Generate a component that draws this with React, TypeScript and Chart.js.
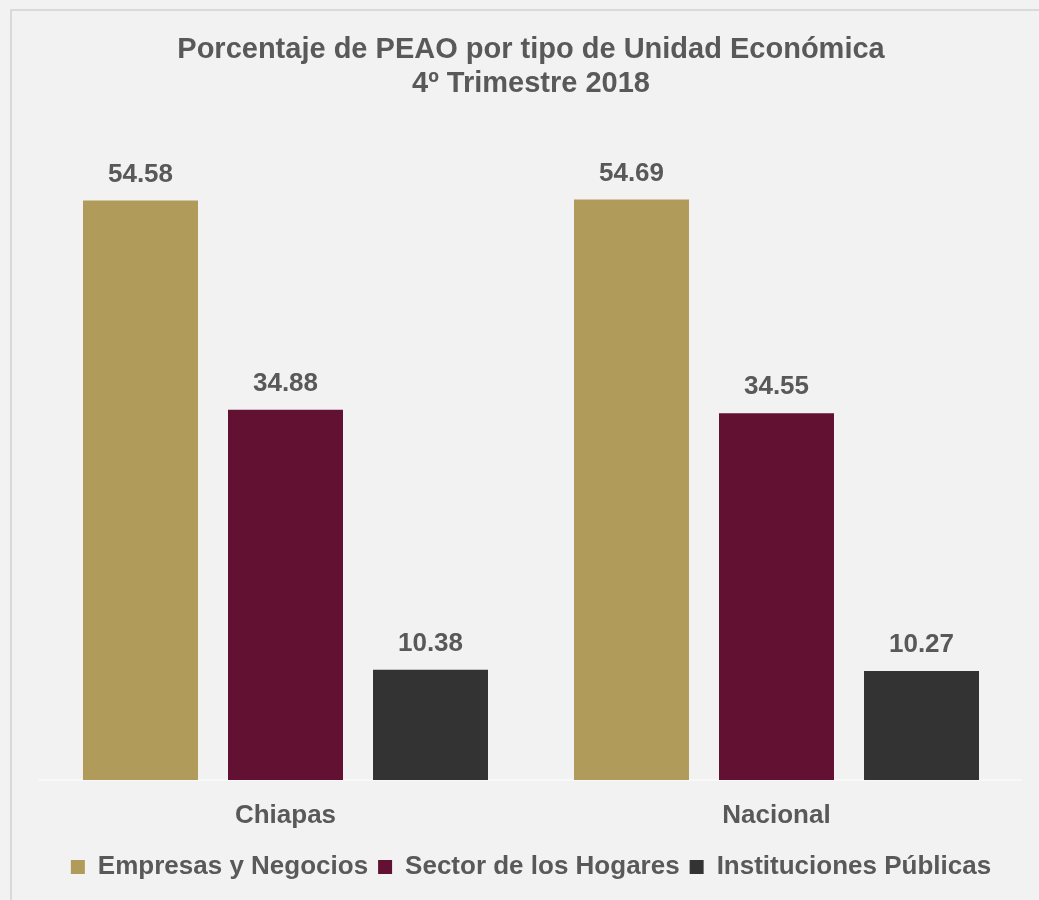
import React, { useEffect, useRef } from "react";
import { Chart, registerables } from "chart.js";

Chart.register(...registerables);

const categories = ["Chiapas", "Nacional"];
const seriesNames = ["Empresas y Negocios", "Sector de los Hogares", "Instituciones Públicas"];
const empresas = [54.58, 54.69];
const hogares = [34.88, 34.55];
const instituciones = [10.38, 10.27];
const titleLines = ["Porcentaje de PEAO por tipo de Unidad Económica", "4º Trimestre 2018"];

const colors = ["#b09b5b", "#621132", "#333333"];
const textColor = "#595959";
const fontFamily = "'Liberation Sans', Arial, sans-serif";

const valueLabels = {
  id: "valueLabels",
  afterDatasetsDraw(chart: any) {
    const ctx = chart.ctx;
    ctx.save();
    ctx.font = `bold 26px ${fontFamily}`;
    ctx.fillStyle = textColor;
    ctx.textAlign = "center";
    ctx.textBaseline = "middle";
    chart.data.datasets.forEach((ds: any, di: number) => {
      const meta = chart.getDatasetMeta(di);
      meta.data.forEach((el: any, i: number) => {
        ctx.fillText(Number(ds.data[i]).toFixed(2), el.x, el.y - 26);
      });
    });
    ctx.restore();
  },
};

export default function App() {
  const ref = useRef<HTMLCanvasElement | null>(null);
  useEffect(() => {
    if (!ref.current) return;
    const seriesData = [empresas, hogares, instituciones];
    const chart = new Chart(ref.current, {
      type: "bar",
      data: {
        labels: categories,
        datasets: seriesNames.map((name, i) => ({
          label: name,
          data: seriesData[i],
          backgroundColor: colors[i],
          borderWidth: 0,
          categoryPercentage: 0.886,
          barPercentage: 0.793,
        })),
      },
      options: {
        animation: false,
        responsive: false,
        maintainAspectRatio: false,
        layout: { padding: { left: 40, right: 17, top: 14, bottom: 10 } },
        scales: {
          x: {
            grid: { display: false },
            border: { display: true, color: "#f8f8f8", width: 2 },
            ticks: {
              color: textColor,
              font: { family: fontFamily, size: 26, weight: "bold", lineHeight: 2.154 },
              padding: 0,
            },
          },
          y: {
            display: false,
            min: 0,
            max: 60.3,
          },
        },
        plugins: {
          title: {
            display: true,
            text: titleLines,
            color: textColor,
            font: { family: fontFamily, size: 29, weight: "bold", lineHeight: 1.17 },
            padding: { top: 19, bottom: 39 },
          },
          legend: {
            position: "bottom",
            labels: {
              color: textColor,
              font: { family: fontFamily, size: 26, weight: "bold" },
              boxWidth: 14,
              boxHeight: 14,
              padding: 10,
            },
          },
          tooltip: { enabled: false },
        },
      },
      plugins: [valueLabels],
    });
    return () => chart.destroy();
  }, []);
  return (
    <div style={{ position: "absolute", left: 0, top: 0, width: 1039, height: 900, background: "#f2f2f2", overflow: "hidden" }}>
      <div style={{ position: "absolute", left: 10, top: 9, width: 1100, height: 1000, borderTop: "2px solid #d9d9d9", borderLeft: "2px solid #d9d9d9" }} />
      <canvas ref={ref} width={1039} height={900} style={{ position: "absolute", left: 0, top: 0, width: 1039, height: 900 }} />
    </div>
  );
}
